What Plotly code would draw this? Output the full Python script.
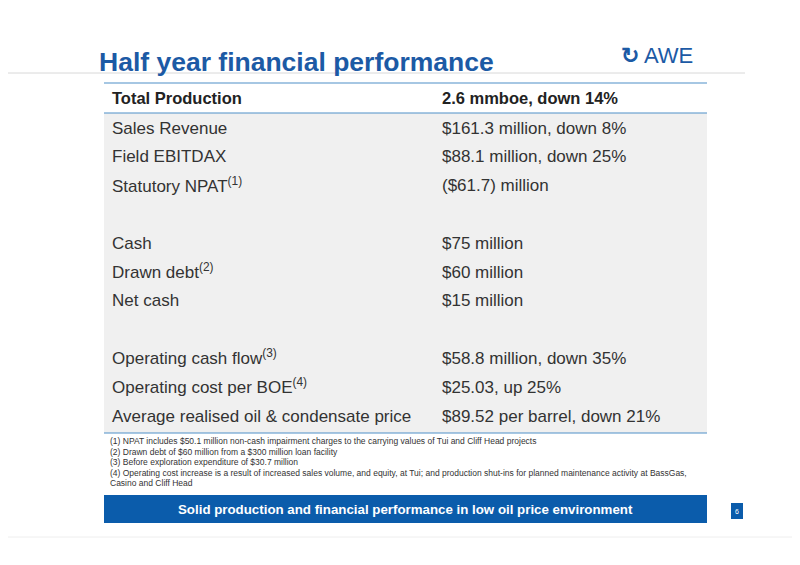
import plotly.graph_objects as go

SUP = "<sup>{}</sup>"
header = ["Total Production", "2.6 mmboe, down 14%"]
labels = ["Sales Revenue", "Field EBITDAX", "Statutory NPAT" + SUP.format("(1)"), "",
          "Cash", "Drawn debt" + SUP.format("(2)"), "Net cash", "",
          "Operating cash flow" + SUP.format("(3)"), "Operating cost per BOE" + SUP.format("(4)"),
          "Average realised oil & condensate price"]
values = ["$161.3 million, down 8%", "$88.1 million, down 25%", "($61.7) million", "",
          "$75 million", "$60 million", "$15 million", "",
          "$58.8 million, down 35%", "$25.03, up 25%", "$89.52 per barrel, down 21%"]
footnotes = [
    "(1) NPAT includes $50.1 million non-cash impairment charges to the carrying values of Tui and Cliff Head projects",
    "(2) Drawn debt of $60 million from a $300 million loan facility",
    "(3) Before exploration expenditure of $30.7 million",
    "(4) Operating cost increase is a result of increased sales volume, and equity, at Tui; and production shut-ins for planned maintenance activity at BassGas,",
    "Casino and Cliff Head",
]
banner = "Solid production and financial performance in low oil price environment"

FONT = "Liberation Sans, Arial, sans-serif"
BLUE = "#0b5cab"
x0, x1, xv = 104, 707, 440
row_h = 28.8
first_row = 128
OFF = 8  # page body margin

fig = go.Figure()
shapes = [
    dict(type="line", x0=0, x1=745, y0=73, y1=73, line=dict(color="#d8d8d8", width=1)),
    dict(type="line", x0=x0, x1=x1, y0=83, y1=83, line=dict(color="#4f8fc8", width=1.2)),
    dict(type="rect", x0=x0, x1=x1, y0=113, y1=433, fillcolor="#f0f0f0", line=dict(width=0), layer="below"),
    dict(type="line", x0=x0, x1=x1, y0=113, y1=113, line=dict(color="#4f8fc8", width=1.2)),
    dict(type="line", x0=x0, x1=x1, y0=433, y1=433, line=dict(color="#4f8fc8", width=1.2)),
    dict(type="rect", x0=x0, x1=x1, y0=495, y1=523, fillcolor=BLUE, line=dict(width=0)),
    dict(type="rect", x0=731, x1=743, y0=503, y1=519, fillcolor=BLUE, line=dict(width=0)),
    dict(type="line", x0=0, x1=800, y0=537, y1=537, line=dict(color="#eeeeee", width=1)),
]
ann = [
    dict(x=97, y=62, text="<b>Half year financial performance</b>", xanchor="left",
         font=dict(size=26.5, color="#1c5aa5")),
    dict(x=642, y=55, text="AWE", xanchor="left", font=dict(size=22, color="#1c5aa5")),
    dict(x=619, y=55, text="<b>↻</b>", xanchor="left", font=dict(size=22, color="#1c5aa5")),
    dict(x=110, y=98, text="<b>" + header[0] + "</b>", xanchor="left", font=dict(size=16.5, color="#222")),
    dict(x=xv, y=98, text="<b>" + header[1] + "</b>", xanchor="left", font=dict(size=16.5, color="#222")),
    dict(x=405, y=509, text="<b>" + banner + "</b>", font=dict(size=13.3, color="white")),
    dict(x=737, y=511, text="6", font=dict(size=7, color="white")),
]
for i, (lab, val) in enumerate(zip(labels, values)):
    y = first_row + i * row_h
    if lab:
        ly = y - 1 if "<sup>" in lab else y
        ann.append(dict(x=110, y=ly, text=lab, xanchor="left", font=dict(size=17, color="#333")))
        ann.append(dict(x=xv, y=y, text=val, xanchor="left", font=dict(size=17, color="#333")))
for i, f in enumerate(footnotes):
    ann.append(dict(x=108, y=441 + i * 10.5, text=f, xanchor="left", font=dict(size=8.5, color="#333")))
for a in ann:
    a.update(xref="x", yref="y", showarrow=False, yanchor="middle")
    a["font"]["family"] = FONT

fig.update_layout(
    width=800, height=565, margin=dict(l=0, r=0, t=0, b=0),
    paper_bgcolor="white", plot_bgcolor="white", showlegend=False,
    shapes=shapes, annotations=ann,
    xaxis=dict(range=[OFF, 800 + OFF], visible=False, fixedrange=True),
    yaxis=dict(range=[565 + OFF, OFF], visible=False, fixedrange=True),
)
fig.write_html("out.html")
